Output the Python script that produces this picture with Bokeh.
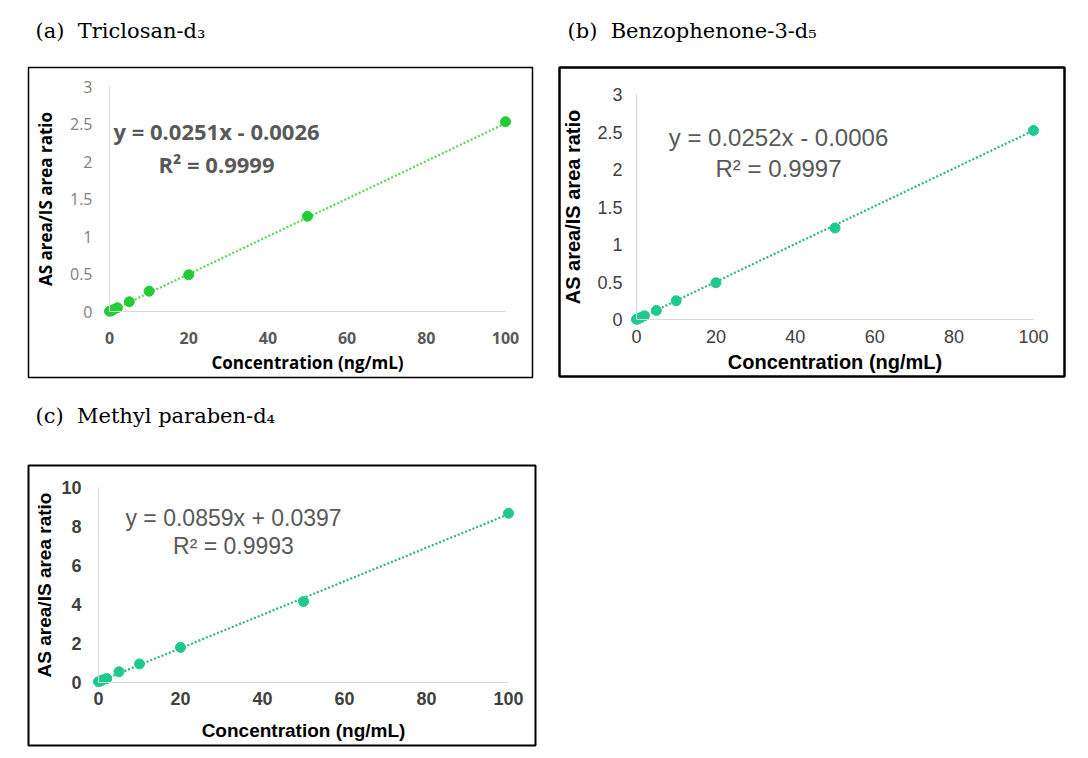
from bokeh.plotting import figure
from bokeh.layouts import column, row
from bokeh.models import Range1d, Label, FixedTicker, CustomJSTickFormatter, BoxAnnotation
from bokeh.embed import file_html
from bokeh.resources import INLINE

# ---------------- data ----------------
concentration = [0, 0.5, 1, 2, 5, 10, 20, 50, 100]
ratio_triclosan = [0.003, 0.012, 0.025, 0.05, 0.13, 0.27, 0.49, 1.27, 2.53]
ratio_benzophenone = [0.002, 0.012, 0.025, 0.05, 0.12, 0.25, 0.49, 1.22, 2.52]
ratio_methylparaben = [0.04, 0.08, 0.13, 0.2, 0.55, 0.95, 1.8, 4.15, 8.68]

fit_slope = [0.0251, 0.0252, 0.0859]
fit_intercept = [-0.0026, -0.0006, 0.0397]
fit_r2 = [0.9999, 0.9997, 0.9993]

panel_titles = ["(a)\u00a0 Triclosan-d\u2083", "(b)\u00a0 Benzophenone-3-d\u2085",
                "(c)\u00a0 Methyl paraben-d\u2084"]
x_ticks = [0, 20, 40, 60, 80, 100]
y_ticks_ab = [0, 0.5, 1, 1.5, 2, 2.5, 3]
y_ticks_c = [0, 2, 4, 6, 8, 10]
x_title = "Concentration (ng/mL)"
y_title = "AS area/IS area ratio"


def equation(slope, intercept):
    sign = "-" if intercept < 0 else "+"
    return f"y = {slope:.4f}x {sign} {abs(intercept):.4f}"


def panel(title, ratio, slope, intercept, r2, yticks, cfg):
    # cfg: layout in page pixels
    fig_left, fig_top = cfg["fig_left"], cfg["fig_top"]
    bl, br, bt, bb = cfg["box"]
    fl, fr, ft, fb = bl - 3, br + 3, fig_top, bb + 3
    x0p, x1p = cfg["xpix"]
    y0p, y1p = cfg["ypix"]
    xs = (x1p - x0p) / (x_ticks[-1] - x_ticks[0])
    ys = (y0p - y1p) / (yticks[-1] - yticks[0])

    def dx(px):
        return (px - x0p) / xs

    def dy(py):
        return (y0p - py) / ys

    p = figure(frame_width=fr - fl, frame_height=fb - ft,
               min_border_left=fl - fig_left, min_border_right=cfg["mbr"],
               min_border_top=0, min_border_bottom=cfg["mbb"],
               x_range=Range1d(dx(fl), dx(fr)), y_range=Range1d(dy(fb), dy(ft)),
               output_backend="svg", toolbar_location=None)

    p.outline_line_color = None
    p.background_fill_color = "white"
    p.border_fill_color = "white"
    p.xgrid.visible = False
    p.ygrid.visible = False

    p.add_layout(BoxAnnotation(left=dx(bl), right=dx(br), top=dy(bt), bottom=dy(bb),
                               fill_color=None, fill_alpha=0, line_color="#000000",
                               line_alpha=1.0, line_width=cfg["box_w"], level="underlay"))

    fmt = CustomJSTickFormatter(code="return tick.toString();")
    for ax, ticks in ((p.xaxis[0], x_ticks), (p.yaxis[0], yticks)):
        ax.fixed_location = 0
        ax.bounds = (ticks[0], ticks[-1])
        ax.ticker = FixedTicker(ticks=ticks, minor_ticks=[])
        ax.formatter = fmt
        ax.axis_line_color = "#d9d9d9"
        ax.axis_line_width = 1.2
        ax.major_tick_line_color = None
        ax.minor_tick_line_color = None
        ax.major_tick_out = 0
        ax.major_tick_in = 0
        ax.major_label_text_font = cfg["font"]
        ax.axis_label_text_font = cfg["font"]
        ax.axis_label_text_font_style = "bold"
        ax.axis_label_text_color = "#000000"
        ax.axis_label_text_font_size = cfg["title_size"]
    p.xaxis.axis_label = x_title
    p.yaxis.axis_label = y_title
    p.yaxis.major_label_text_font_size = cfg["ytick_size"]
    p.xaxis.major_label_text_font_size = cfg["xtick_size"]
    p.yaxis.major_label_text_font_style = cfg["ytick_style"]
    p.xaxis.major_label_text_font_style = cfg["xtick_style"]
    p.yaxis.major_label_text_color = cfg["ytick_color"]
    p.xaxis.major_label_text_color = cfg["xtick_color"]
    p.yaxis.major_label_standoff = cfg["ystand"]
    p.xaxis.major_label_standoff = cfg["xstand"]
    p.yaxis.axis_label_standoff = cfg["ylab_stand"]
    p.xaxis.axis_label_standoff = cfg["xlab_stand"]

    # trend line from the fit
    tx = [x_ticks[0], x_ticks[-1]]
    ty = [slope * v + intercept for v in tx]
    p.line(tx, ty, line_color=cfg["line_color"], line_width=2.2, line_dash="2 2")
    p.scatter(concentration, ratio, size=10, fill_color=cfg["marker_color"],
              line_color=cfg["marker_color"])

    ex, ey, ry = cfg["eq_pos"]
    for txt, yy in ((equation(slope, intercept), ey), (f"R\u00b2 = {r2:.4f}", ry)):
        p.add_layout(Label(x=dx(ex), y=dy(yy), text=txt,
                           text_align="center", text_baseline="middle",
                           text_font=cfg["eq_font"], text_font_size=cfg["eq_size"],
                           text_font_style=cfg["eq_style"], text_color="#595959"))

    tx0, ty0 = cfg["title_pos"]
    p.add_layout(Label(x=dx(tx0), y=dy(ty0), text=title,
                       text_align="left", text_baseline="middle",
                       text_font="DejaVu Serif", text_font_size="21px",
                       text_color="#000000"))
    return p


cfg_a = dict(fig_left=0, fig_top=0, box=(28, 532, 67, 377), mbr=10, mbb=15,
             xpix=(109, 505), ypix=(311, 86), title_pos=(35, 30),
             box_w=1.5, font="Open Sans", title_size="17px",
             ytick_size="16px", xtick_size="16px", ytick_style="normal", xtick_style="bold",
             ytick_color="#7f7f7f", xtick_color="#595959",
             ystand=17, xstand=20, ylab_stand=10, xlab_stand=4,
             line_color="#55d855", marker_color="#22cc33",
             eq_pos=(216, 130, 163), eq_font="Open Sans", eq_size="22px", eq_style="bold")

cfg_b = dict(fig_left=545, fig_top=0, box=(559, 1064, 67, 376), mbr=5, mbb=16,
             xpix=(636, 1033), ypix=(319, 94), title_pos=(567, 30),
             box_w=2.5, font="Liberation Sans", title_size="20px",
             ytick_size="18px", xtick_size="18px", ytick_style="normal", xtick_style="normal",
             ytick_color="#404040", xtick_color="#404040",
             ystand=14, xstand=10, ylab_stand=10, xlab_stand=5,
             line_color="#2fb38a", marker_color="#1ec98f",
             eq_pos=(778, 137, 168), eq_font="Liberation Sans", eq_size="24px", eq_style="normal")

cfg_c = dict(fig_left=0, fig_top=395, box=(28, 535, 465, 745), mbr=5, mbb=2,
             xpix=(98, 508), ypix=(682, 487), title_pos=(35, 415),
             box_w=2, font="Liberation Sans", title_size="19px",
             ytick_size="18px", xtick_size="18px", ytick_style="bold", xtick_style="bold",
             ytick_color="#404040", xtick_color="#404040",
             ystand=17, xstand=9, ylab_stand=3, xlab_stand=12,
             line_color="#2fb38a", marker_color="#1ec98f",
             eq_pos=(233, 517, 545), eq_font="Liberation Sans", eq_size="23px", eq_style="normal")

pa = panel(panel_titles[0], ratio_triclosan, fit_slope[0], fit_intercept[0], fit_r2[0], y_ticks_ab, cfg_a)
pb = panel(panel_titles[1], ratio_benzophenone, fit_slope[1], fit_intercept[1], fit_r2[1], y_ticks_ab, cfg_b)
pc = panel(panel_titles[2], ratio_methylparaben, fit_slope[2], fit_intercept[2], fit_r2[2], y_ticks_c, cfg_c)

layout = column(row(pa, pb), pc)
open("out.html", "w").write(file_html(layout, INLINE))
